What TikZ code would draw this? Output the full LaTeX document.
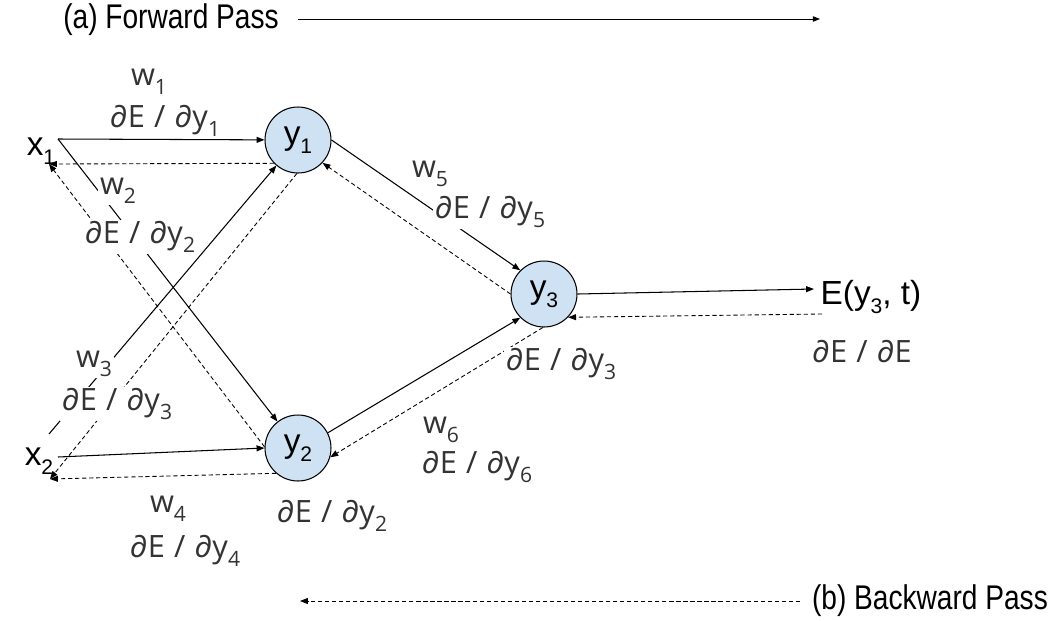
\documentclass[tikz,border=0pt]{standalone}
\usepackage{fontspec}
\setmainfont{Liberation Sans}
\newfontfamily\gradfont{Open Sans}
\newfontfamily\passfont[FakeStretch=0.82]{Liberation Sans}
\usetikzlibrary{arrows.meta}

\definecolor{neuronfill}{HTML}{CFE2F3}
\definecolor{gradgrey}{HTML}{333333}

% lowered subscript, as used for every index in the figure
\newcommand{\lowsub}[1]{\raisebox{-5pt}{\fontsize{12}{12}\selectfont #1}}
% partial derivative dE/d(something)
\newcommand{\dEd}[1]{∂E\hspace{0.3em}/\hspace{0.3em}∂#1}

\begin{document}
\begin{tikzpicture}[x=0.02cm, y=-0.02cm, line join=round]
  \tikzset{
    neuron/.style={circle, draw, line width=0.6pt, fill=neuronfill,
      minimum size=1.32cm, inner sep=0pt, font=\fontsize{19}{19}\selectfont},
    var/.style={inner sep=1pt, font=\fontsize{19}{19}\selectfont},
    grad/.style={fill=white, inner sep=1pt, text=gradgrey,
      font=\gradfont\fontsize{17.5}{17.5}\selectfont},
    pass/.style={inner sep=1pt, font=\passfont\fontsize{19.5}{19.5}\selectfont},
    fwdline/.style={line width=0.6pt, -{Triangle[length=4.5pt,width=3.4pt]}},
    backline/.style={line width=0.5pt, dash pattern=on 2.4pt off 1.6pt,
      -{Triangle[length=4.5pt,width=3.4pt]}},
  }
  \useasboundingbox (0,0) rectangle (1059,620);

  % inputs, neurons and the error
  \node[var] (x1) at (41,151) {x\lowsub{1}};
  \node[var] (x2) at (39,461) {x\lowsub{2}};
  \node[neuron] (y1) at (298,140) {y\lowsub{1}};
  \node[neuron] (y2) at (298,448) {y\lowsub{2}};
  \node[neuron] (y3) at (544,294) {y\lowsub{3}};
  \node[var] (E) at (871,297) {E(y\lowsub{3}, t)};

  % free ends next to the variables
  \coordinate (x1out) at (58,139);
  \coordinate (x1in) at (49,164);
  \coordinate (x2up) at (49,434);
  \coordinate (x2out) at (58,457);
  \coordinate (x2in) at (50,479);
  \coordinate (Ein) at (814,289);
  \coordinate (Eout) at (822,314);

  % forward (solid) and backward (dashed) connections
  \draw[fwdline] (x1out) -- (y1);
  \draw[backline] (y1.224) -- (x1in);
  \draw[fwdline] (x1out) -- (y2);
  \draw[backline] (y2.178) -- (x1in);
  \draw[fwdline] (x2up) -- (y1);
  \draw[backline] (y1.268) -- (x2in);
  \draw[fwdline] (x2out) -- (y2.west);
  \draw[backline] (y2.229) -- (x2in);
  \draw[fwdline] (y1.east) -- (y3.135);
  \draw[backline] (y3.180) -- (y1.317);
  \draw[fwdline] (y2.27) -- (y3.225);
  \draw[backline] (y3.268) -- (y2.344);
  \draw[fwdline] (y3.east) -- (Ein);
  \draw[backline] (Eout) -- (y3.316);

  % weights and gradients along the connections
  \foreach \name/\pos/\txt in {
    wA/{149,82}/{w\lowsub{1}},
    gA/{165,121}/{\dEd{y}\lowsub{1}},
    wB/{118,191}/{w\lowsub{2}},
    gB/{140,237}/{\dEd{y}\lowsub{2}},
    wC/{94,364}/{w\lowsub{3}},
    gC/{117,404}/{\dEd{y}\lowsub{3}},
    wD/{168,509}/{w\lowsub{4}},
    gD/{185,551}/{\dEd{y}\lowsub{4}},
    wE/{430,174}/{w\lowsub{5}},
    gE/{490,212}/{\dEd{y}\lowsub{5}},
    wF/{441,430}/{w\lowsub{6}},
    gF/{477,467}/{\dEd{y}\lowsub{6}},
    gYthree/{561,364}/{\dEd{y}\lowsub{3}},
    gYtwo/{332,516}/{\dEd{y}\lowsub{2}},
    gErr/{862,352}/{\dEd{E}}
  }{
    \node[grad] (\name) at (\pos) {\txt};
  }

  % direction of the two passes
  \node[pass] (fwd) at (171,20) {(a) Forward Pass};
  \coordinate (fwdstart) at (298,19);
  \coordinate (fwdend) at (820,19);
  \draw[line width=0.5pt, -{Triangle[length=4pt,width=3pt]}] (fwdstart) -- (fwdend);

  \node[pass] (bwd) at (930,601) {(b) Backward Pass};
  \coordinate (bwdstart) at (800,601);
  \coordinate (bwdend) at (300,601);
  \draw[backline, line width=0.45pt] (bwdstart) -- (bwdend);
\end{tikzpicture}
\end{document}
